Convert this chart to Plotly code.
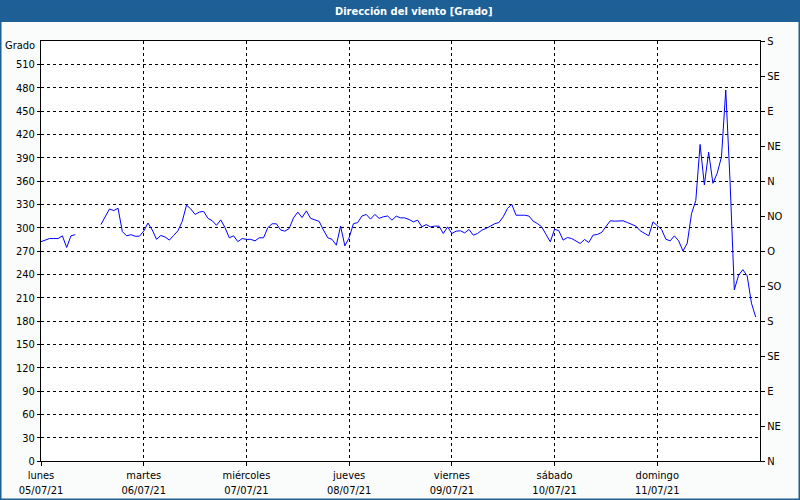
import plotly.graph_objects as go
import pandas as pd

# ---- data (hourly wind direction, degrees) ----
start = "2021-07-05 00:00"
direction = [
    282, 284, 286, 286, 286, 289.5, 274.5, 289.5, 291, None, None, None, None, None,
    304, 314, 324, 322, 325, 295, 289.5, 291, 289, 289,
    295.5, 306, 297, 285, 290, 288, 284, 290, 296, 308, 329, 324, 317, 320, 321, 312,
    309, 303, 310, 300, 287, 289.5, 282, 286,
    285, 285, 283, 287, 287, 300, 305, 305, 297, 295.5, 299, 312.6, 320, 313, 321.6, 312,
    309.6, 308, 297, 287, 285, 277.5, 302, 276.6,
    287, 305, 306.6, 315, 317, 311, 317, 312, 314, 315, 309.6, 314.8, 312.6, 312.6, 310.5,
    307.5, 309.6, 301, 304, 301, 302, 302, 292.5, 301,
    292.5, 295.5, 296, 293.3, 297.7, 290.4, 292.5, 296.8, 299, 302, 305, 306.6, 314, 324.7,
    330, 316, 316, 316, 315, 308.4, 305.3, 301, 291.3, 281.8,
    298, 296, 284, 287.4, 286, 283, 279.7, 284.8, 281, 290.4, 291.3, 293.8, 302, 308.8,
    308.4, 308.8, 308.8, 306.6, 304, 302, 296, 292.5, 289.5, 307.5,
    302.3, 297.7, 285.2, 283, 289.5, 283, 270, 280, 318, 335, 407, 355, 397, 357, 370, 391,
    477, 360, 220, 239, 246, 238, 203, 185,
]
times = pd.date_range(start, periods=len(direction), freq="h")

day_ticks = pd.date_range("2021-07-05", periods=7, freq="D")
day_names = ["lunes", "martes", "miércoles", "jueves", "viernes", "sábado", "domingo"]
day_labels = [f"{n}<br>{d.strftime('%d/%m/%y')}" for n, d in zip(day_names, day_ticks)]

left_ticks = list(range(0, 511, 30))
right_ticks = list(range(0, 541, 45))
right_labels = ["N", "NE", "E", "SE", "S", "SO", "O", "NO", "N", "NE", "E", "SE", "S"]

title_text = "Dirección del viento [Grado]"
unit_text = "Grado"

# ---- layout geometry (pixels) ----
FW, FH = 800, 500
L, R, T, B = 41, 760, 41, 461
W, H = R - L, B - T
BLUE = "#1E5F96"
FONT = "Tahoma, DejaVu Sans Condensed, DejaVu Sans, sans-serif"


def px(x):
    return (x - L) / W


def py(y):
    return (B - y) / H


fig = go.Figure()
fig.add_trace(go.Scatter(x=times, y=direction, mode="lines",
                         line=dict(color="#0000FF", width=1), connectgaps=False,
                         showlegend=False, hoverinfo="x+y"))
# invisible trace for right axis
fig.add_trace(go.Scatter(x=[times[0]], y=[0], yaxis="y2", mode="markers",
                         marker=dict(opacity=0), showlegend=False, hoverinfo="skip"))

fig.update_layout(
    width=FW, height=FH,
    margin=dict(l=L, r=FW - R, t=T, b=FH - B, pad=0),
    paper_bgcolor="#FAFCFB",
    plot_bgcolor="#FFFFFF",
    font=dict(family=FONT, size=11, color="#000000"),
    xaxis=dict(
        type="date",
        range=["2021-07-05", "2021-07-12"],
        tickmode="array", tickvals=day_ticks, ticktext=day_labels,
        showgrid=True, gridcolor="#000000", griddash="3px,3px", gridwidth=1,
        showline=True, linecolor="#000000", linewidth=1, mirror=True,
        ticks="outside", ticklen=4, tickcolor="#000000",
        zeroline=False, automargin=False, fixedrange=True,
    ),
    yaxis=dict(
        range=[0, 540],
        tickmode="array", tickvals=left_ticks,
        showgrid=True, gridcolor="#000000", griddash="3px,3px", gridwidth=1,
        showline=True, linecolor="#000000", linewidth=1,
        ticks="outside", ticklen=3, tickcolor="#000000",
        zeroline=False, automargin=False, fixedrange=True,
    ),
    yaxis2=dict(
        range=[0, 540], overlaying="y", side="right",
        tickmode="array", tickvals=right_ticks, ticktext=right_labels,
        showgrid=False, showline=True, linecolor="#000000", linewidth=1,
        ticks="outside", ticklen=4, tickcolor="#000000",
        zeroline=False, automargin=False, fixedrange=True,
    ),
    shapes=[
        dict(type="rect", xref="paper", yref="paper",
             x0=px(0), x1=px(FW), y0=py(0), y1=py(22),
             fillcolor=BLUE, line=dict(width=0), layer="above"),
        dict(type="rect", xref="paper", yref="paper",
             x0=px(0.75), x1=px(FW - 0.75), y0=py(0.75), y1=py(FH - 0.75),
             fillcolor="rgba(0,0,0,0)", line=dict(color=BLUE, width=1.5), layer="above"),
    ],
    annotations=[
        dict(text=f"<b>{title_text}</b>", xref="paper", yref="paper",
             x=px(413), y=py(11), xanchor="center", yanchor="middle",
             showarrow=False, font=dict(color="#FFFFFF", size=11, family=FONT)),
        dict(text=unit_text, xref="paper", yref="paper",
             x=px(37), y=py(46), xanchor="right", yanchor="middle",
             showarrow=False, font=dict(size=11, family=FONT)),
    ],
)

fig.write_html("out.html", config={"displayModeBar": False},
               post_script="document.body.style.margin='0';document.body.style.padding='0';")
